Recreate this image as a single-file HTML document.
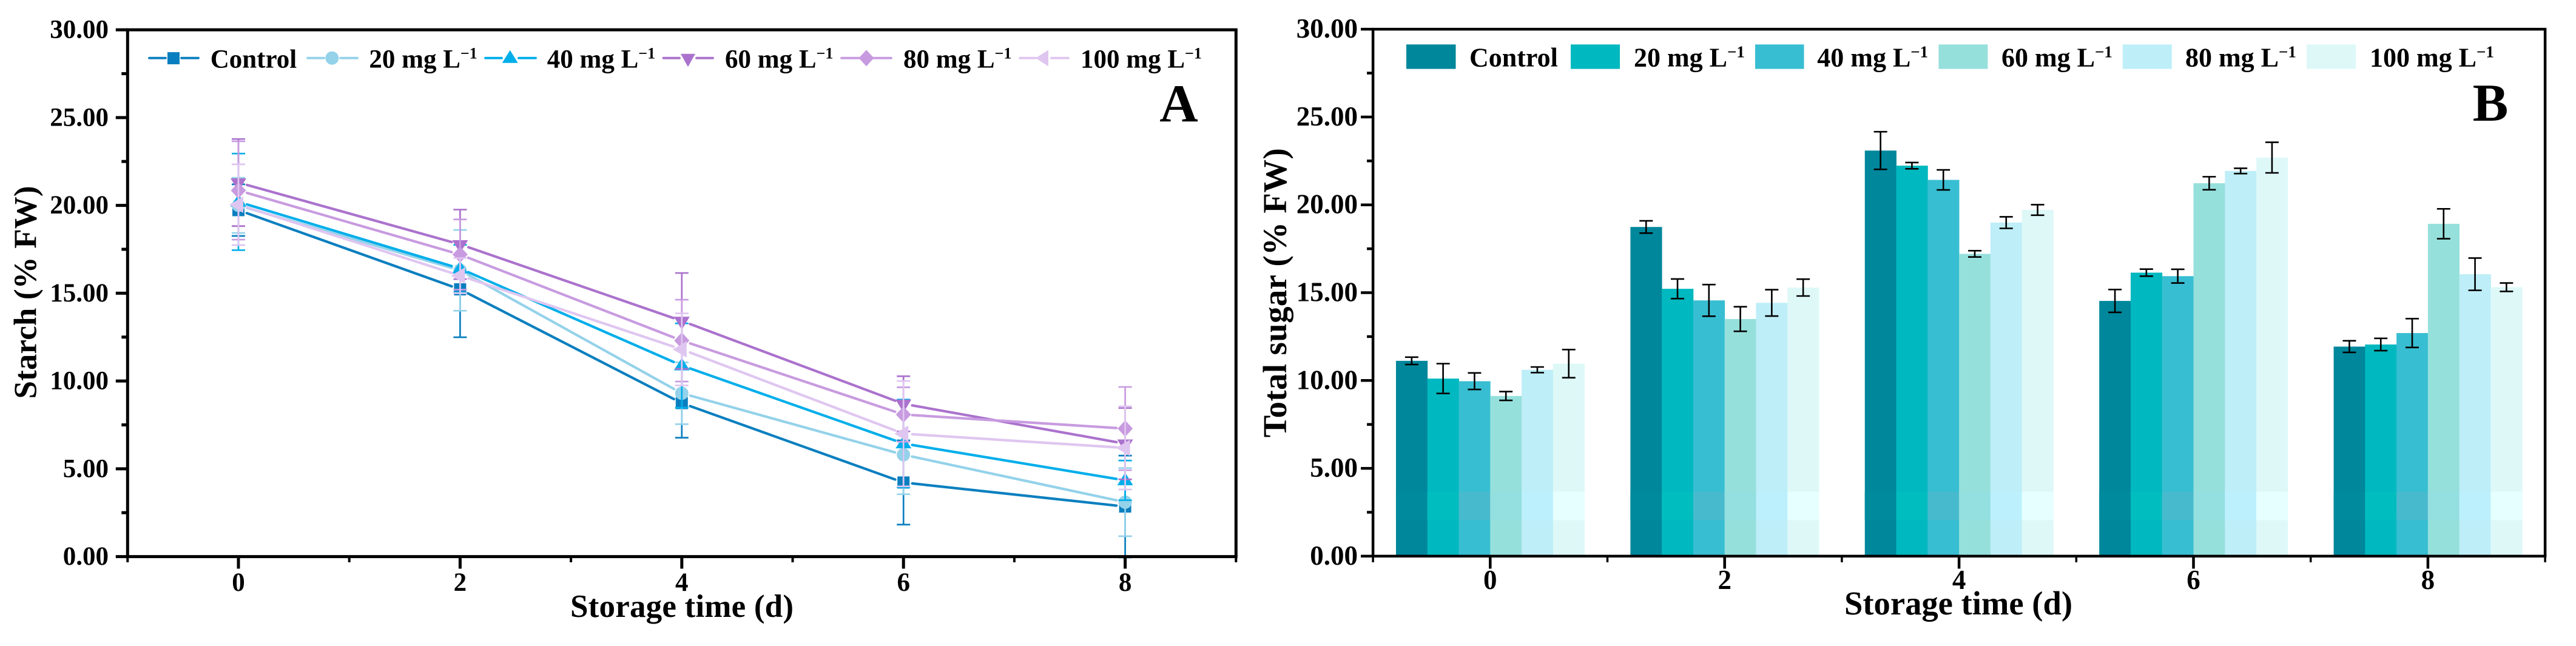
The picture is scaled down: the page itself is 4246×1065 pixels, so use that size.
<!DOCTYPE html>
<html lang="en">
<head>
<meta charset="utf-8">
<title>Starch and total sugar during storage</title>
<style>
html,body{margin:0;padding:0;background:#fff;}
svg{display:block;}
text{font-family:"Liberation Serif","Times New Roman",serif;font-weight:bold;fill:#000;}
</style>
</head>
<body>
<svg id="figure" xmlns="http://www.w3.org/2000/svg" width="4246" height="1065" viewBox="0 0 4246 1065">
<rect width="4246" height="1065" fill="#fff"/>

<g id="panel-a">
  <g id="a-plot"></g>
  <g id="a-axes"></g>
  <text x="1124" y="1017" font-size="53" text-anchor="middle" textLength="368">Storage time (d)</text>
  <text transform="translate(59.6,482) rotate(-90)" font-size="53" text-anchor="middle" textLength="351">Starch (% FW)</text>
  <text x="1943" y="200" font-size="88" text-anchor="middle">A</text>
  <g>
    <g stroke="#0A7FBF" stroke-width="3.8" stroke-linecap="round">
      <line x1="246" y1="95.7" x2="273" y2="95.7"/><line x1="299" y1="95.7" x2="327" y2="95.7"/>
      <rect x="276" y="86" width="20" height="20" fill="#0A7FBF" stroke="none"/>
      <text x="346.7" y="111.7" font-size="43" stroke="none">Control</text>
    </g>
    <g stroke="#94D2EA" stroke-width="3.8" stroke-linecap="round">
      <line x1="507" y1="95.7" x2="534" y2="95.7"/><line x1="561" y1="95.7" x2="589" y2="95.7"/>
      <circle cx="547.3" cy="95.7" r="11" fill="#94D2EA" stroke="none"/>
      <text x="608.4" y="111.7" font-size="43" stroke="none">20 mg L<tspan dy="-15" font-size="26">−1</tspan></text>
    </g>
    <g stroke="#00AEEA" stroke-width="3.8" stroke-linecap="round">
      <line x1="800" y1="95.7" x2="827" y2="95.7"/><line x1="855" y1="95.7" x2="883" y2="95.7"/>
      <polygon points="840.7,82.7 853.7,103.7 827.7,103.7" fill="#00AEEA" stroke="none"/>
      <text x="901.8" y="111.7" font-size="43" stroke="none">40 mg L<tspan dy="-15" font-size="26">−1</tspan></text>
    </g>
    <g stroke="#AB72CD" stroke-width="3.8" stroke-linecap="round">
      <line x1="1093.5" y1="95.7" x2="1120" y2="95.7"/><line x1="1148" y1="95.7" x2="1175" y2="95.7"/>
      <polygon points="1122,88.7 1146,88.7 1134,110.2" fill="#AB72CD" stroke="none"/>
      <text x="1195" y="111.7" font-size="43" stroke="none">60 mg L<tspan dy="-15" font-size="26">−1</tspan></text>
    </g>
    <g stroke="#C89BE0" stroke-width="3.8" stroke-linecap="round">
      <line x1="1387" y1="95.7" x2="1469" y2="95.7"/>
      <polygon points="1428,82.2 1440.5,95.7 1428,109.2 1415.5,95.7" fill="#C89BE0" stroke="none"/>
      <text x="1489" y="111.7" font-size="43" stroke="none">80 mg L<tspan dy="-15" font-size="26">−1</tspan></text>
    </g>
    <g stroke="#DFC6F0" stroke-width="3.8" stroke-linecap="round">
      <line x1="1681" y1="95.7" x2="1707" y2="95.7"/><line x1="1733" y1="95.7" x2="1761" y2="95.7"/>
      <polygon points="1707,95.7 1728,82.2 1728,109.2" fill="#DFC6F0" stroke="none"/>
      <text x="1781" y="111.7" font-size="43" stroke="none">100 mg L<tspan dy="-15" font-size="26">−1</tspan></text>
    </g>
  </g>
</g>

<g id="panel-b">
  <g id="b-plot"></g>
  <g id="b-axes"></g>
  <text x="3228" y="1013" font-size="54.6" text-anchor="middle" textLength="376">Storage time (d)</text>
  <text transform="translate(2120,482.8) rotate(-90)" font-size="54.8" text-anchor="middle" textLength="477">Total sugar (% FW)</text>
  <text x="4105" y="199" font-size="88" text-anchor="middle">B</text>
  <g>
    <g>
      <rect x="2318" y="73.3" width="81.5" height="40.3" fill="#00879B"/>
      <text x="2422" y="109.5" font-size="44">Control</text>
    </g>
    <g>
      <rect x="2589" y="73.3" width="81" height="40.3" fill="#00B8BF"/>
      <text x="2693" y="109.5" font-size="44">20 mg L<tspan dy="-15" font-size="27">−1</tspan></text>
    </g>
    <g>
      <rect x="2893" y="73.3" width="80.5" height="40.3" fill="#38BED2"/>
      <text x="2995.3" y="109.5" font-size="44">40 mg L<tspan dy="-15" font-size="27">−1</tspan></text>
    </g>
    <g>
      <rect x="3195.4" y="73.3" width="81" height="40.3" fill="#96E0DC"/>
      <text x="3299" y="109.5" font-size="44">60 mg L<tspan dy="-15" font-size="27">−1</tspan></text>
    </g>
    <g>
      <rect x="3498.8" y="73.3" width="81" height="40.3" fill="#BEEEF8"/>
      <text x="3602" y="109.5" font-size="44">80 mg L<tspan dy="-15" font-size="27">−1</tspan></text>
    </g>
    <g>
      <rect x="3802" y="73.3" width="81" height="40.3" fill="#DEF8F8"/>
      <text x="3906" y="109.5" font-size="44">100 mg L<tspan dy="-15" font-size="27">−1</tspan></text>
    </g>
  </g>
</g>
</svg>

<script>
// ---- shared axis data ----
const days = [0, 2, 4, 6, 8];
const xTickLabels = ["0", "2", "4", "6", "8"];
const xMinorTicks = [-1, 1, 3, 5, 7, 9];
const yTicks = [0, 5, 10, 15, 20, 25, 30];
const yTickLabels = ["0.00", "5.00", "10.00", "15.00", "20.00", "25.00", "30.00"];
const yMinorTicks = [2.5, 7.5, 12.5, 17.5, 22.5, 27.5];
const seriesNames = ["control", "20-mg", "40-mg", "60-mg", "80-mg", "100-mg"];

// ---- Panel A: starch (% FW) ----
const starchControl = [19.73, 15.22, 8.74, 4.22, 2.85];
const starch20 = [20.0, 16.3, 9.3, 5.8, 3.1];
const starch40 = [20.2, 16.4, 10.88, 6.44, 4.34];
const starch60 = [21.3, 17.78, 13.42, 8.7, 6.43];
const starch80 = [20.85, 17.2, 12.3, 8.09, 7.29];
const starch100 = [20.04, 16.0, 11.8, 7.0, 6.19];
const starchControlErr = [1.47, 2.73, 1.97, 2.4, 2.9];
const starch20Err = [1.57, 2.3, 1.76, 2.25, 1.94];
const starch40Err = [2.75, 1.35, 2.4, 2.5, 1.13];
const starch60Err = [2.48, 1.98, 2.73, 1.57, 2.03];
const starch80Err = [2.8, 2.0, 2.33, 1.55, 2.37];
const starch100Err = [2.3, 1.0, 2.05, 3.0, 2.37];

// ---- Panel B: total sugar (% FW) ----
const sugarControl = [11.12, 18.74, 23.09, 14.53, 11.93];
const sugar20 = [10.11, 15.22, 22.23, 16.14, 12.05];
const sugar40 = [9.96, 14.56, 21.42, 15.94, 12.7];
const sugar60 = [9.12, 13.5, 17.21, 21.23, 18.92];
const sugar80 = [10.61, 14.42, 18.99, 21.93, 16.05];
const sugar100 = [10.96, 15.29, 19.71, 22.69, 15.31];
const sugarControlErr = [0.21, 0.35, 1.07, 0.65, 0.33];
const sugar20Err = [0.85, 0.56, 0.18, 0.2, 0.35];
const sugar40Err = [0.47, 0.9, 0.57, 0.39, 0.82];
const sugar60Err = [0.25, 0.7, 0.18, 0.37, 0.85];
const sugar80Err = [0.16, 0.75, 0.33, 0.15, 0.92];
const sugar100Err = [0.8, 0.48, 0.3, 0.87, 0.24];

const NS = "http://www.w3.org/2000/svg";
function make(parent, tag, attrs) {
  const el = document.createElementNS(NS, tag);
  for (const k in attrs) el.setAttribute(k, attrs[k]);
  parent.appendChild(el);
  return el;
}

// ---- axis functions ----
function xA(d) { return 393 + d * 182.7; }
function yA(v) { return 917.6 - v * 28.95; }
function xB(d) { return 2456.3 + d * 193.2; }
function yB(v) { return 916.9 - v * 28.96; }

function drawAxes(g, x, y, lw, fontSize, labelRight, majorLen, minorLen, labelDy, xLabelY, prefix) {
  const l = x(-1), r = x(9), t = y(30), b = y(0);
  const frame = [
    [l, t, r, t, 'top'], [l, b, r, b, 'bottom'], [l, t, l, b, 'left'], [r, t, r, b, 'right']
  ];
  frame.forEach(function (f) {
    const el = make(g, 'line', {x1: f[0] - (f[1] === f[3] ? lw / 2 : 0), y1: f[1], x2: f[2] + (f[1] === f[3] ? lw / 2 : 0), y2: f[3], stroke: '#000', 'stroke-width': lw});
    
    
  });
  yTicks.forEach(function (v, i) {
    const tick = make(g, 'line', {x1: l - majorLen, y1: y(v), x2: l, y2: y(v), stroke: '#000', 'stroke-width': lw});
    
    
    const label = make(g, 'text', {x: labelRight, y: y(v) + labelDy, 'font-size': fontSize, 'text-anchor': 'end'});
    label.textContent = yTickLabels[i];
    
    
  });
  yMinorTicks.forEach(function (v) {
    const tick = make(g, 'line', {x1: l - minorLen, y1: y(v), x2: l, y2: y(v), stroke: '#000', 'stroke-width': lw});
    
    
  });
  days.forEach(function (d, i) {
    const tick = make(g, 'line', {x1: x(d), y1: b, x2: x(d), y2: 937.5, stroke: '#000', 'stroke-width': lw});
    
    
    const label = make(g, 'text', {x: x(d), y: xLabelY, 'font-size': fontSize, 'text-anchor': 'middle'});
    label.textContent = xTickLabels[i];
    
    
  });
  xMinorTicks.forEach(function (d) {
    const tick = make(g, 'line', {x1: x(d), y1: b, x2: x(d), y2: 927, stroke: '#000', 'stroke-width': lw - 1});
    
    
  });
}

function marker(g, shape, px, py, color) {
  if (shape === 'square') return make(g, 'rect', {x: px - 10, y: py - 10, width: 20, height: 20, fill: color});
  if (shape === 'circle') return make(g, 'ellipse', {cx: px, cy: py, rx: 11, ry: 11, fill: color});
  let pts;
  if (shape === 'up') pts = [[0, -13], [13, 8], [-13, 8]];
  if (shape === 'down') pts = [[-13, -7], [13, -7], [0, 14.5]];
  if (shape === 'diamond') pts = [[0, -13.5], [12.5, 0], [0, 13.5], [-12.5, 0]];
  if (shape === 'left') pts = [[-15, 0], [8, -13.5], [8, 13.5]];
  return make(g, 'polygon', {points: pts.map(function (p) { return (px + p[0]) + ',' + (py + p[1]); }).join(' '), fill: color});
}

// ---- Panel A marks ----
(function () {
  const plot = document.getElementById('a-plot');
  const values = [starchControl, starch20, starch40, starch60, starch80, starch100];
  const errors = [starchControlErr, starch20Err, starch40Err, starch60Err, starch80Err, starch100Err];
  const colors = ['#0A7FBF', '#94D2EA', '#00AEEA', '#AB72CD', '#C89BE0', '#DFC6F0'];
  const shapes = ['square', 'circle', 'up', 'down', 'diamond', 'left'];
  const gap = 14.5;
  values.forEach(function (vals, s) {
    const g = make(plot, 'g', {});
    
    
    for (let i = 0; i < days.length - 1; i++) {
      const x1 = xA(days[i]), y1 = yA(vals[i]), x2 = xA(days[i + 1]), y2 = yA(vals[i + 1]);
      const len = Math.hypot(x2 - x1, y2 - y1);
      const ux = (x2 - x1) / len, uy = (y2 - y1) / len;
      const seg = make(g, 'line', {x1: x1 + ux * gap, y1: y1 + uy * gap, x2: x2 - ux * gap, y2: y2 - uy * gap, stroke: colors[s], 'stroke-width': 4.2, 'stroke-linecap': 'round'});
      
      
    }
    days.forEach(function (d, i) {
      const m = marker(g, shapes[s], xA(d), yA(vals[i]), colors[s]);
      
      
      const hi = yA(vals[i] + errors[s][i]), lo = yA(vals[i] - errors[s][i]);
      const eb = make(g, 'path', {d: 'M' + xA(d) + ' ' + hi + 'V' + lo + 'M' + (xA(d) - 11) + ' ' + hi + 'H' + (xA(d) + 11) + 'M' + (xA(d) - 11) + ' ' + lo + 'H' + (xA(d) + 11), stroke: colors[s], 'stroke-width': 2.7, fill: 'none'});
      
      
    });
  });
  drawAxes(document.getElementById('a-axes'), xA, yA, 5, 43, 179, 19.5, 10, 13.5, 974, 'starch');
})();

// ---- Panel B marks ----
(function () {
  const plot = document.getElementById('b-plot');
  const values = [sugarControl, sugar20, sugar40, sugar60, sugar80, sugar100];
  const errors = [sugarControlErr, sugar20Err, sugar40Err, sugar60Err, sugar80Err, sugar100Err];
  const colors = ['#00879B', '#00B8BF', '#38BED2', '#96E0DC', '#BEEEF8', '#DEF8F8'];
  const bandColors = ['#008A9E', '#00BDBF', '#48BACE', '#94DFDF', '#BCF0FD', '#E6FFFF'];
  const barWidth = (xB(1) - xB(0)) * 0.268;
  const bandHigh = 3.67, bandLow = 2.05;
  values.forEach(function (vals, s) {
    days.forEach(function (d, i) {
      const left = xB(d) + (s - 3) * barWidth;
      const bar = make(plot, 'rect', {x: left, y: yB(vals[i]), width: barWidth + 0.4, height: yB(0) - yB(vals[i]), fill: colors[s]});
      
      
      const band = make(plot, 'rect', {x: left, y: yB(bandHigh), width: barWidth + 0.4, height: yB(bandLow) - yB(bandHigh), fill: bandColors[s]});
      
      
    });
  });
  values.forEach(function (vals, s) {
    days.forEach(function (d, i) {
      const cx = xB(d) + (s - 2.5) * barWidth;
      const hi = yB(vals[i] + errors[s][i]), lo = yB(vals[i] - errors[s][i]);
      const eb = make(plot, 'path', {d: 'M' + cx + ' ' + hi + 'V' + lo + 'M' + (cx - 11) + ' ' + hi + 'H' + (cx + 11) + 'M' + (cx - 11) + ' ' + lo + 'H' + (cx + 11), stroke: '#000', 'stroke-width': 2.6, fill: 'none'});
      
      
    });
  });
  drawAxes(document.getElementById('b-axes'), xB, yB, 4.5, 45, 2238, 20, 10, 14, 971, 'sugar');
})();
</script>
</body>
</html>
